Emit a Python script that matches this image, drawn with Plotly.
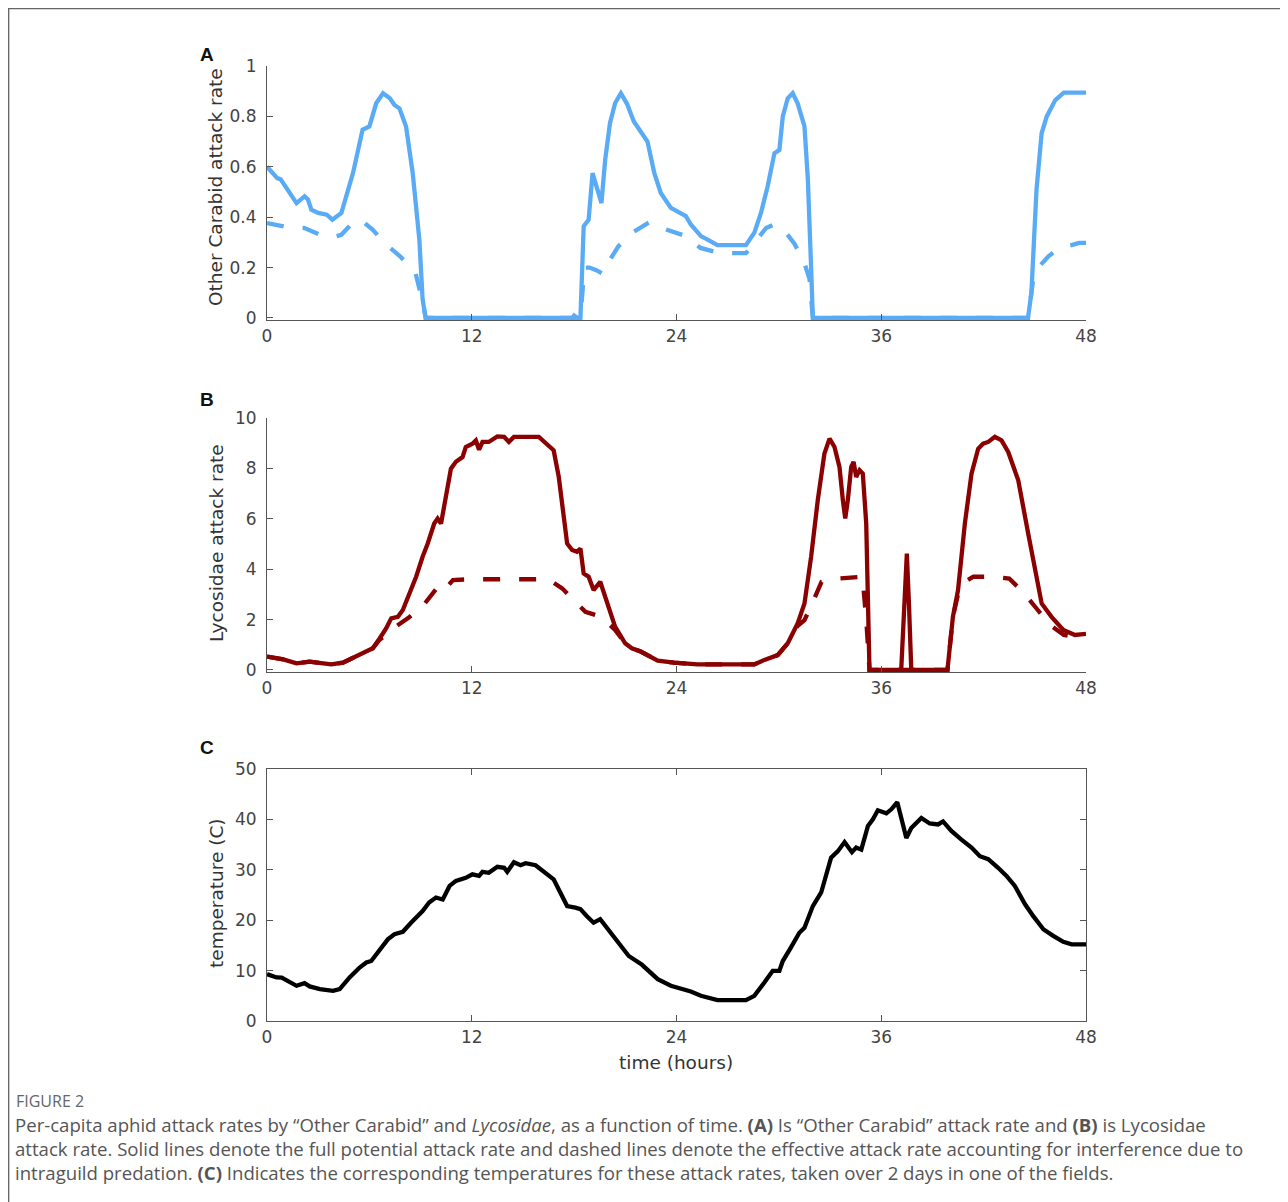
import plotly.graph_objects as go

# ---------------- data ----------------
hour_ticks = [0, 12, 24, 36, 48]

# Panel A: "Other Carabid" attack rate
a_full_t = [0, 0.6, 0.8, 1.73, 2.2, 2.4, 2.6, 3.0, 3.5, 3.83, 4.36, 5.04, 5.6, 6.0, 6.4, 6.8, 7.2, 7.47, 7.76, 8.15,
            8.54, 8.93, 9.12, 9.3, 17.9, 18.0, 18.2, 18.37, 18.56, 18.85, 19.08, 19.34, 19.6, 19.82, 20.1, 20.4,
            20.74, 21.1, 21.5, 21.9, 22.3, 22.7, 23.08, 23.67, 24.25, 24.55, 24.84, 25.43, 25.82, 26.4, 28.07,
            28.56, 28.95, 29.34, 29.74, 30.03, 30.23, 30.52, 30.81, 31.1, 31.5, 31.7, 31.9, 31.99, 44.6, 44.8,
            45.1, 45.4, 45.7, 46.2, 46.7, 48]
a_full_v = [0.60, 0.555, 0.55, 0.456, 0.483, 0.47, 0.43, 0.417, 0.41, 0.39, 0.417, 0.575, 0.747, 0.76, 0.852, 0.892,
            0.872, 0.845, 0.832, 0.76, 0.575, 0.31, 0.074, 0, 0, 0.01, 0, 0, 0.364, 0.39, 0.575, 0.52, 0.456, 0.628,
            0.773, 0.852, 0.892, 0.85, 0.78, 0.74, 0.70, 0.575, 0.496, 0.437, 0.417, 0.404, 0.371, 0.325, 0.311,
            0.289, 0.289, 0.338, 0.417, 0.522, 0.654, 0.667, 0.8, 0.872, 0.892, 0.852, 0.76, 0.549, 0.18, 0, 0,
            0.1, 0.51, 0.733, 0.8, 0.865, 0.894, 0.894]
a_eff_t = [0, 0.6, 1.2, 2.2, 2.8, 3.3, 3.8, 4.36, 5.1, 5.5, 6.2, 7.0, 7.8, 8.7, 9.1, 9.3, 18.37, 18.6, 18.9, 19.3,
           19.7, 20.0, 20.6, 21.4, 22.4, 23.4, 24.55, 25.4, 26.56, 27.6, 28.07, 28.56, 29.25, 29.7, 30.2, 30.9,
           31.46, 31.8, 31.99, 44.6, 44.9, 45.2, 45.8, 46.3, 46.8, 47.2, 47.6, 48]
a_eff_v = [0.377, 0.37, 0.36, 0.357, 0.34, 0.325, 0.32, 0.33, 0.384, 0.39, 0.35, 0.29, 0.245, 0.18, 0.07, 0, 0, 0.2,
           0.2, 0.19, 0.175, 0.22, 0.285, 0.338, 0.38, 0.351, 0.325, 0.278, 0.257, 0.257, 0.257, 0.298, 0.357,
           0.37, 0.357, 0.296, 0.226, 0.153, 0, 0, 0.15, 0.2, 0.245, 0.27, 0.285, 0.29, 0.298, 0.298]

# Panel B: Lycosidae attack rate
b_full_t = [0, 0.95, 1.73, 2.5, 3.3, 3.77, 4.45, 5.23, 5.8, 6.2, 6.6, 6.98, 7.28, 7.67, 7.96, 8.35, 8.74, 9.12, 9.42,
            9.8, 10.0, 10.2, 10.5, 10.78, 11.07, 11.46, 11.65, 12.04, 12.24, 12.43, 12.63, 13.0, 13.5, 13.9, 14.18,
            14.47, 15.93, 16.42, 16.8, 17.1, 17.4, 17.59, 17.88, 18.17, 18.37, 18.56, 18.85, 19.14, 19.53, 19.82,
            20.4, 20.99, 21.38, 21.9, 22.3, 22.9, 23.86, 25.23, 28.56, 29.15, 29.93, 30.52, 31.1, 31.5, 31.89,
            32.28, 32.67, 32.97, 33.26, 33.55, 33.75, 33.89, 34.04, 34.24, 34.38, 34.53, 34.73, 34.92, 35.12,
            35.22, 35.31, 37.17, 37.37, 37.5, 37.63, 37.76, 39.88, 40.2, 40.5, 40.9, 41.29, 41.68, 41.97, 42.27,
            42.66, 43.05, 43.44, 44.03, 44.61, 45.4, 45.98, 46.67, 47.35, 48]
b_full_v = [0.53, 0.42, 0.26, 0.33, 0.26, 0.22, 0.29, 0.53, 0.73, 0.86, 1.25, 1.65, 2.05, 2.11, 2.38, 3.04, 3.7,
            4.49, 5.02, 5.81, 6.01, 5.81, 6.87, 7.99, 8.26, 8.45, 8.85, 8.98, 9.11, 8.74, 9.05, 9.05, 9.27, 9.25,
            9.05, 9.25, 9.25, 8.98, 8.72, 7.66, 6.21, 5.02, 4.76, 4.69, 4.82, 3.83, 3.7, 3.17, 3.5, 2.91, 1.72,
            1.06, 0.86, 0.73, 0.59, 0.37, 0.29, 0.22, 0.22, 0.40, 0.59, 1.06, 1.85, 2.64, 4.49, 6.74, 8.59, 9.18,
            8.85, 8.06, 6.74, 6.01, 6.74, 8.06, 8.26, 7.66, 7.93, 7.79, 5.81, 3.17, 0, 0, 3.17, 4.62, 2.51, 0, 0,
            2.11, 3.17, 5.81, 7.79, 8.78, 8.98, 9.05, 9.25, 9.11, 8.65, 7.53, 5.42, 2.64, 2.11, 1.59, 1.39, 1.43]
b_eff_t = [0, 0.95, 1.73, 2.5, 3.3, 3.77, 4.45, 5.23, 5.8, 6.2, 6.6, 7.0, 7.4, 8.25, 9.1, 9.9, 10.2, 10.9, 11.85,
           12.9, 14.2, 15.25, 16.5, 17.3, 18.07, 18.66, 19.6, 20.4, 20.99, 21.38, 21.9, 22.3, 22.9, 23.86, 25.23,
           28.56, 29.15, 29.93, 30.52, 31.1, 31.5, 32.0, 32.5, 33.45, 34.6, 34.9, 35.12, 35.31, 39.88, 40.2, 40.5,
           40.9, 41.4, 42.4, 43.5, 44.3, 45.1, 45.9, 46.7, 47.8, 48]
b_eff_v = [0.53, 0.42, 0.26, 0.33, 0.26, 0.22, 0.29, 0.53, 0.73, 0.86, 1.2, 1.39, 1.65, 2.05, 2.51, 3.2, 3.04, 3.57,
           3.6, 3.6, 3.6, 3.6, 3.6, 3.24, 2.71, 2.31, 2.11, 1.59, 1.06, 0.86, 0.73, 0.59, 0.37, 0.29, 0.22, 0.22,
           0.40, 0.59, 1.06, 1.75, 1.98, 2.71, 3.5, 3.63, 3.7, 3.7, 2.0, 0, 0, 2.11, 3.0, 3.5, 3.7, 3.7, 3.63, 3.1,
           2.44, 1.78, 1.39, 1.25, 1.3]

# Panel C: temperature
c_t = [0, 0.56, 0.86, 1.34, 1.73, 2.2, 2.5, 3.1, 3.68, 3.87, 4.26, 4.84, 5.43, 5.82, 6.11, 6.6, 7.08, 7.47, 7.96,
       8.44, 9.12, 9.5, 9.9, 10.3, 10.7, 11.07, 11.65, 12.04, 12.43, 12.63, 13.0, 13.5, 13.9, 14.08, 14.47, 14.86,
       15.16, 15.74, 16.32, 16.8, 17.1, 17.59, 18.07, 18.37, 18.75, 19.14, 19.53, 20.0, 20.6, 21.2, 21.96, 22.3,
       22.9, 23.67, 24.45, 24.84, 25.43, 26.0, 26.4, 28.07, 28.56, 29.15, 29.64, 30.03, 30.23, 30.71, 31.2, 31.5,
       31.99, 32.48, 32.77, 33.06, 33.46, 33.85, 34.28, 34.53, 34.83, 35.22, 35.51, 35.8, 36.3, 36.59, 36.94,
       37.18, 37.47, 37.76, 38.35, 38.84, 39.33, 39.62, 40.11, 40.7, 41.29, 41.78, 42.27, 42.85, 43.34, 43.83,
       44.42, 44.91, 45.5, 46.08, 46.67, 47.16, 48]
c_temp = [9.3, 8.64, 8.6, 7.65, 6.99, 7.5, 6.86, 6.33, 6.2, 6.0, 6.33, 8.64, 10.6, 11.6, 11.9, 14.2, 16.2, 17.2,
          17.7, 19.5, 21.8, 23.5, 24.5, 24.1, 26.8, 27.8, 28.4, 29.1, 28.8, 29.6, 29.4, 30.6, 30.4, 29.6, 31.5,
          30.9, 31.3, 30.9, 29.4, 28.1, 26.1, 22.8, 22.5, 22.2, 20.8, 19.5, 20.2, 18.2, 15.6, 12.9, 11.2, 10.2,
          8.3, 7.0, 6.33, 5.87, 5.0, 4.5, 4.15, 4.15, 5.0, 7.65, 9.96, 9.96, 11.9, 14.6, 17.5, 18.5, 22.8, 25.5,
          28.8, 32.4, 33.7, 35.5, 33.5, 34.4, 34.0, 38.7, 40.0, 41.8, 41.2, 42.0, 43.4, 40.0, 36.3, 38.3, 40.3,
          39.2, 39.0, 39.6, 37.7, 36.0, 34.4, 32.7, 32.1, 30.4, 28.8, 26.8, 23.2, 20.8, 18.2, 16.9, 15.7, 15.2,
          15.2]

a_ticks = [0, 0.2, 0.4, 0.6, 0.8, 1]
a_labels = ["0", "0.2", "0.4", "0.6", "0.8", "1"]
b_ticks = [0, 2, 4, 6, 8, 10]
c_ticks = [0, 10, 20, 30, 40, 50]

caption_label = "FIGURE 2"
caption_lines = [
    "Per-capita aphid attack rates by “Other Carabid” and <i>Lycosidae</i>, as a function of time. "
    "<b>(A)</b> Is “Other Carabid” attack rate and <b>(B)</b> is Lycosidae",
    "attack rate. Solid lines denote the full potential attack rate and dashed lines denote the effective "
    "attack rate accounting for interference due to",
    "intraguild predation. <b>(C)</b> Indicates the corresponding temperatures for these attack rates, "
    "taken over 2 days in one of the fields.",
]

# ---------------- layout helpers ----------------
# the page body has an 8px margin, so the figure starts at page (8, 8)
OFF = 8
W, H = 1288 - OFF, 1202 - OFF
BLUE = "#5aabf5"
RED = "#8b0000"
AX = "#555555"
DASH = "17px,19px"
TICKFONT = dict(family="DejaVu Sans", size=17, color="#444444")


def px_x(x):
    return (x - OFF) / W


def px_y(y):
    return 1 - (y - OFF) / H


x_dom = [px_x(267), px_x(1086)]

fig = go.Figure()

# Panel A
fig.add_trace(go.Scatter(x=a_eff_t, y=a_eff_v, mode="lines", xaxis="x", yaxis="y",
                         line=dict(color=BLUE, width=4.3, dash=DASH), showlegend=False))
fig.add_trace(go.Scatter(x=a_full_t, y=a_full_v, mode="lines", xaxis="x", yaxis="y",
                         line=dict(color=BLUE, width=4.3), showlegend=False))
# Panel B
fig.add_trace(go.Scatter(x=b_eff_t, y=b_eff_v, mode="lines", xaxis="x2", yaxis="y2",
                         line=dict(color=RED, width=4.3, dash=DASH), showlegend=False))
fig.add_trace(go.Scatter(x=b_full_t, y=b_full_v, mode="lines", xaxis="x2", yaxis="y2",
                         line=dict(color=RED, width=4.3), showlegend=False))
# Panel C
fig.add_trace(go.Scatter(x=c_t, y=c_temp, mode="lines", xaxis="x3", yaxis="y3",
                         line=dict(color="black", width=4.3), showlegend=False))

common_x = dict(range=[0, 48], tickvals=hour_ticks, ticks="inside", ticklen=6, tickcolor=AX,
                showline=True, linecolor=AX, linewidth=1, showgrid=False, zeroline=False,
                tickfont=TICKFONT, ticklabelstandoff=1, automargin=False, fixedrange=True)
common_y = dict(ticks="inside", ticklen=6, tickcolor=AX, showline=True, linecolor=AX, linewidth=1,
                showgrid=False, zeroline=False, tickfont=TICKFONT, ticklabelstandoff=6,
                automargin=False, fixedrange=True)

fig.update_layout(
    width=W, height=H, margin=dict(l=0, r=0, t=0, b=0),
    paper_bgcolor="white", plot_bgcolor="white", template="none",
    xaxis=dict(domain=x_dom, anchor="y", **common_x),
    yaxis=dict(domain=[px_y(320), px_y(66)], anchor="x", range=[-0.008, 1],
               tickvals=a_ticks, ticktext=a_labels, **common_y),
    xaxis2=dict(domain=x_dom, anchor="y2", **common_x),
    yaxis2=dict(domain=[px_y(672), px_y(418)], anchor="x2", range=[-0.08, 10],
                tickvals=b_ticks, **common_y),
    xaxis3=dict(domain=x_dom, anchor="y3", mirror="ticks", **common_x),
    yaxis3=dict(domain=[px_y(1021), px_y(769)], anchor="x3", range=[0, 50],
                tickvals=c_ticks, mirror="ticks", **common_y),
)

annotations = []
# axis titles
for text, cy in [("Other Carabid attack rate", 187), ("Lycosidae attack rate", 543), ("temperature (C)", 893)]:
    annotations.append(dict(text=text, x=px_x(216), y=px_y(cy), xref="paper", yref="paper",
                            textangle=-90, showarrow=False, xanchor="center", yanchor="middle",
                            font=dict(family="DejaVu Sans", size=18.5, color="#333333")))
annotations.append(dict(text="time (hours)", x=px_x(676), y=px_y(1062), xref="paper", yref="paper",
                        showarrow=False, xanchor="center", yanchor="middle",
                        font=dict(family="DejaVu Sans", size=18.5, color="#333333")))
# panel letters
for letter, cy in [("A", 54), ("B", 399), ("C", 748)]:
    annotations.append(dict(text="<b>%s</b>" % letter, x=px_x(198), y=px_y(cy), xref="paper", yref="paper",
                            showarrow=False, xanchor="left", yanchor="middle",
                            font=dict(family="Liberation Sans", size=19, color="#111111")))
# caption
annotations.append(dict(text=caption_label, x=px_x(14), y=px_y(1101), xref="paper", yref="paper",
                        showarrow=False, xanchor="left", yanchor="middle",
                        font=dict(family="Open Sans", size=16, color="#666666")))
for i, line in enumerate(caption_lines):
    annotations.append(dict(text=line, x=px_x(13), y=px_y(1124 + 24 * i), xref="paper", yref="paper",
                            showarrow=False, xanchor="left", yanchor="middle",
                            font=dict(family="Open Sans", size=18.6, color="#555555")))
fig.update_layout(annotations=annotations)

# frame lines around figure (top and left)
fig.update_layout(shapes=[
    dict(type="line", xref="paper", yref="paper", x0=0, x1=1, y0=px_y(8.6), y1=px_y(8.6),
         line=dict(color="#666666", width=1.5)),
    dict(type="line", xref="paper", yref="paper", x0=px_x(8.6), x1=px_x(8.6), y0=0, y1=1,
         line=dict(color="#666666", width=1.5)),
])

fig.write_html("out.html")
